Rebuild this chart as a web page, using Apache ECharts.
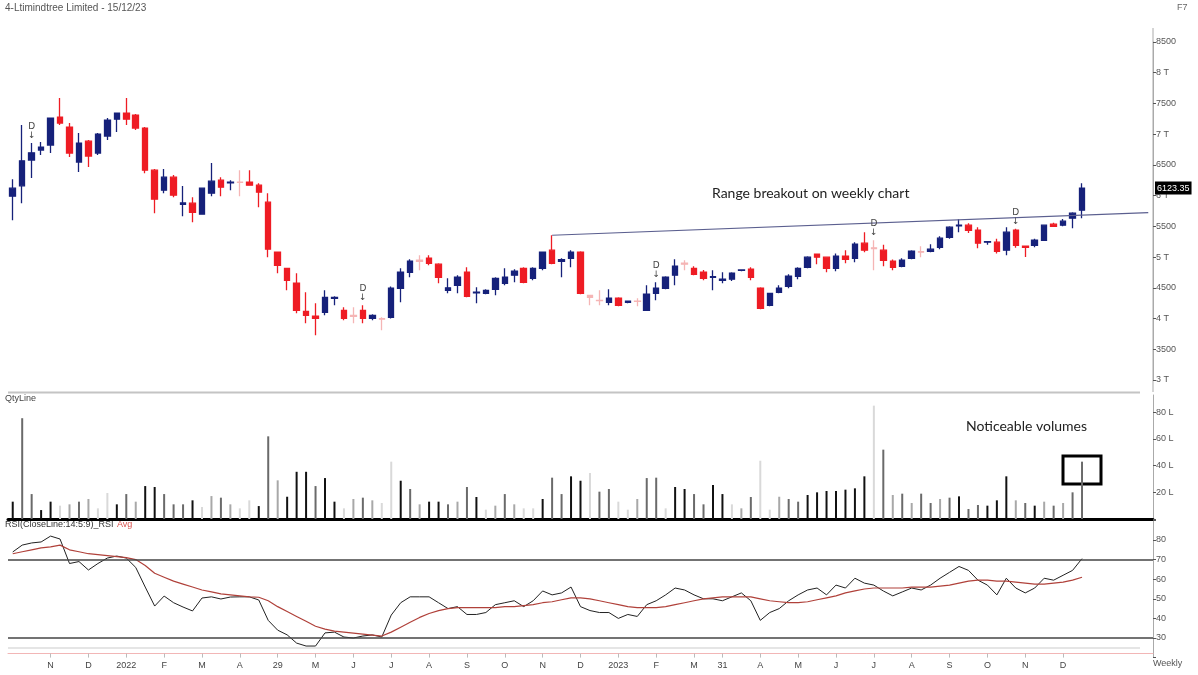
<!DOCTYPE html>
<html>
<head>
<meta charset="utf-8">
<title>Ltimindtree weekly</title>
<script src="https://cdn.jsdelivr.net/npm/echarts@6/dist/echarts.min.js"></script>
<style>
  html, body { margin: 0; padding: 0; background: #fff; }
  #chart { width: 1198px; height: 675px; }
</style>
</head>
<body>
<div id="chart"></div>
<script>
// weekly candles, oldest first (Oct 2021 .. 15 Dec 2023)
const open = [5991, 6159, 6578, 6741, 6822, 7278, 7115, 6546, 6887, 6692,
  6969, 7245, 7343, 7311, 7099, 6415, 6089, 6301, 5860, 5877,
  5698, 6040, 6252, 6210, 6220, 6220, 6170, 5893, 5079, 4818,
  4574, 4118, 4037, 4102, 4330, 4134, 4053, 4134, 4004, 3998,
  4020, 4493, 4753, 4949, 4981, 4884, 4460, 4541, 4753, 4420,
  4412, 4476, 4574, 4705, 4818, 4655, 4818, 5112, 4932, 4981,
  5079, 4378, 4297, 4265, 4330, 4265, 4285, 4134, 4412, 4493,
  4705, 4900, 4818, 4753, 4672, 4620, 4640, 4786, 4802, 4493,
  4216, 4427, 4525, 4688, 4835, 5046, 4998, 4818, 5014, 4981,
  5226, 5150, 5112, 4932, 4851, 4981, 5090, 5095, 5160, 5323,
  5510, 5519, 5437, 5242, 5242, 5112, 5437, 5177, 5193, 5274,
  5535, 5519, 5633, 5763]
const close = [6122, 6566, 6697, 6790, 7262, 7180, 6692, 6855, 6643, 7002,
  7229, 7343, 7245, 7099, 6415, 5942, 6301, 6008, 5880, 5730,
  6122, 6236, 6138, 6220, 6215, 6170, 6057, 5128, 4867, 4623,
  4134, 4053, 4004, 4346, 4346, 4004, 4037, 4004, 4053, 3990,
  4493, 4753, 4932, 4932, 4900, 4672, 4500, 4672, 4362, 4430,
  4460, 4655, 4672, 4770, 4590, 4818, 5079, 4900, 4960, 5079,
  4411, 4346, 4290, 4330, 4216, 4285, 4280, 4395, 4493, 4672,
  4851, 4884, 4721, 4655, 4680, 4640, 4737, 4790, 4672, 4167,
  4411, 4493, 4688, 4818, 4998, 4998, 4818, 5014, 4965, 5209,
  5112, 5140, 4949, 4835, 4949, 5095, 5080, 5128, 5307, 5486,
  5520, 5437, 5226, 5250, 5095, 5405, 5193, 5160, 5274, 5519,
  5502, 5584, 5714, 6123.35]
const high = [6268, 7148, 6855, 6871, 7262, 7588, 7180, 7018, 6904, 7018,
  7262, 7343, 7588, 7327, 7115, 6432, 6432, 6334, 6155, 5975,
  6122, 6530, 6301, 6252, 6415, 6415, 6203, 6040, 5079, 4818,
  4737, 4427, 4248, 4460, 4362, 4183, 4183, 4216, 4069, 4020,
  4520, 4818, 4965, 5030, 5030, 4900, 4655, 4705, 4835, 4510,
  4476, 4672, 4818, 4802, 4835, 4835, 5079, 5355, 4981, 5112,
  5095, 4378, 4460, 4476, 4346, 4290, 4330, 4541, 4590, 4690,
  4965, 4949, 4850, 4790, 4786, 4753, 4753, 4802, 4835, 4510,
  4420, 4541, 4720, 4835, 5014, 5060, 5010, 5060, 5112, 5242,
  5405, 5274, 5200, 4960, 4981, 5112, 5177, 5209, 5340, 5500,
  5616, 5550, 5486, 5260, 5300, 5486, 5460, 5180, 5300, 5530,
  5560, 5620, 5730, 6203]
const low = [5600, 5877, 6285, 6660, 6692, 7148, 6627, 6383, 6464, 6660,
  6904, 7034, 7148, 7067, 6366, 5714, 6040, 5975, 5665, 5567,
  5698, 5991, 5991, 6089, 5991, 6170, 5812, 4998, 4737, 4460,
  4085, 3922, 3727, 4053, 4216, 3971, 3922, 3922, 3971, 3808,
  4000, 4265, 4672, 4786, 4867, 4574, 4412, 4412, 4346, 4248,
  4395, 4378, 4541, 4590, 4574, 4623, 4786, 4884, 4672, 4835,
  4395, 4216, 4216, 4216, 4200, 4250, 4200, 4134, 4297, 4476,
  4541, 4786, 4705, 4623, 4460, 4574, 4610, 4770, 4623, 4150,
  4200, 4411, 4493, 4640, 4818, 4884, 4753, 4770, 4900, 4916,
  5080, 4786, 4850, 4786, 4835, 4965, 4998, 5080, 5128, 5300,
  5405, 5390, 5145, 5200, 5060, 5030, 5150, 5000, 5160, 5260,
  5490, 5500, 5470, 5633]

// weeks drawn in pale pink
const faintIdx = [24, 36, 39, 43, 61, 62, 66, 71, 91, 96]
// weeks with a "D" (dividend) flag
const dividendIdx = [2, 37, 68, 91, 106]

// quantity in lakhs and its shade (0 black .. 3 very light)
const volume = [13, 75.6, 18.7, 6.7, 13, 10, 11, 13, 15, 8,
  19.5, 11, 18.7, 13, 24.7, 24, 18.7, 11, 11, 14,
  9, 17.2, 16, 11, 8, 14, 9.7, 62, 29, 16.7,
  35.4, 35.4, 24.7, 30.7, 13, 8, 15, 16, 14, 12,
  43, 28.7, 22.5, 11, 13, 13, 11, 13, 24, 16.5,
  7, 10, 18.7, 11, 8, 8, 15, 31, 18.7, 32,
  28.7, 34.5, 20.5, 22.5, 13, 7, 15, 30.7, 31, 8,
  24, 22.5, 18.7, 11, 25.5, 18.7, 11, 8, 16.5, 43.7,
  7, 16.7, 15, 13, 18, 20, 21, 21, 22, 23,
  32, 85, 52, 18, 19, 12, 19, 12, 15, 16,
  17, 7.5, 10.5, 10, 14, 32, 14, 12, 10, 13,
  10, 12, 20, 43]
const volShade = [0, 1, 1, 0, 0, 3, 2, 1, 2, 3,
  3, 0, 1, 2, 0, 0, 1, 1, 1, 0,
  3, 2, 1, 2, 3, 3, 0, 1, 2, 0,
  0, 0, 1, 0, 0, 3, 2, 1, 2, 3,
  3, 0, 1, 2, 0, 0, 1, 2, 1, 0,
  3, 2, 1, 2, 3, 3, 0, 1, 1, 0,
  0, 3, 1, 1, 3, 3, 2, 1, 1, 3,
  0, 0, 1, 1, 0, 0, 3, 2, 1, 3,
  3, 2, 1, 1, 0, 0, 0, 0, 0, 0,
  0, 3, 1, 2, 1, 2, 1, 1, 2, 1,
  0, 1, 1, 0, 0, 0, 2, 1, 0, 2,
  1, 2, 1, 1]

const rsi = [73.9, 77.4, 78.5, 79, 82, 80.5, 68, 69, 64.7, 68,
  70.8, 71.8, 70.8, 66, 56, 46.3, 51.4, 48, 45.8, 43.8,
  50.4, 51, 49.9, 50.9, 51, 51, 49.4, 39, 34, 31.6,
  27.4, 25.9, 25.9, 32.6, 33, 30.5, 30, 31, 31.6, 30.5,
  41.7, 48, 51, 51, 51, 48, 45, 46, 42, 42,
  43, 47, 48, 49, 46, 49, 54, 52, 53, 56,
  46, 44, 43, 43, 40, 42, 41, 47, 49, 52,
  55.5, 54.5, 52, 50, 50, 49, 51, 53, 49, 39,
  43, 45, 49, 52, 54.5, 55.5, 52, 57, 55.5, 60.5,
  58, 57, 54, 51.5, 53.5, 55.5, 54.5, 57, 60.5, 63.5,
  66.5, 64.5, 59.5, 57, 52, 60.5, 55.5, 53, 55.5, 60.5,
  59.5, 62, 64.5, 70.5]
const rsiAvg = [73, 74, 75, 76, 76.5, 77.4, 75, 74, 73, 72.5,
  72, 71.5, 71, 70, 67, 63, 61, 59, 57.5, 56,
  54.5, 53.5, 52.5, 52, 51.5, 51, 50.8, 49, 46, 43.5,
  41, 38.5, 36, 34.5, 33.5, 33, 32.5, 32, 31.5, 31,
  33, 35.5, 38, 40.5, 42.5, 44, 45, 45.5, 45.5, 45.5,
  45.5, 45.5, 46, 46, 46.5, 47, 48, 48.5, 49.5, 50.5,
  50.5, 50, 49, 48, 47, 46, 45.5, 45.5, 45.5, 46,
  47, 48, 49, 50, 50.5, 51, 51, 51, 51, 50,
  49, 48.5, 48, 48, 48.5, 49.5, 50.5, 51.5, 53, 54,
  55, 55.5, 55.5, 55.5, 55.5, 56, 56, 56, 56.5, 57,
  58, 59, 59.5, 59.5, 59, 59, 58.5, 58, 57.5, 57.5,
  58, 58.5, 59.5, 61]

// month labels on the time axis
const tickIdx = [4, 8, 12, 16, 20, 24, 28, 32, 36, 40, 44, 48, 52, 56, 60,
  64, 68, 72, 75, 79, 83, 87, 91, 95, 99, 103, 107, 111]
const tickText = ['N', 'D', '2022', 'F', 'M', 'A', '29', 'M', 'J', 'J', 'A', 'S', 'O', 'N', 'D',
  '2023', 'F', 'M', '31', 'A', 'M', 'J', 'J', 'A', 'S', 'O', 'N', 'D']

// breakout line: [week, price] -> [week, price]
const breakoutLine = [[57, 5355], [120, 5725]]
const lastPrice = 6123.35

const weeks = open.map((v, i) => 'W' + i)
for (let i = 0; i < 7; i++) weeks.push('E' + i)

const UP = '#16217a'
const DOWN = '#ee1c24'
const FAINT = '#f5b5b5'
const shadeColors = ['#111111', '#6a6a6a', '#a8a8a8', '#d9d9d9']
const axisFont = { fontFamily: 'Liberation Sans', fontSize: 9, color: '#555' }

const chartInstance = echarts.init(document.getElementById('chart'))

const candleData = open.map((o, i) => {
  const item = { value: [o, close[i], low[i], high[i]] }
  if (faintIdx.includes(i)) {
    item.itemStyle = { color: FAINT, color0: FAINT, borderColor: FAINT, borderColor0: FAINT }
  }
  return item
})

const volData = volume.map((v, i) => ({
  value: v,
  itemStyle: { color: shadeColors[volShade[i]] },
}))

const dividendMarks = dividendIdx.map((i) => ({ coord: [i, high[i]], value: 'D' }))

const hiddenX = {
  type: 'category',
  data: weeks,
  boundaryGap: true,
  axisLine: { show: false },
  axisTick: { show: false },
  axisLabel: { show: false },
  splitLine: { show: false },
}

const option = {
  animation: false,
  backgroundColor: '#fff',
  grid: [
    { left: 8, right: 45, top: 42, height: 338 },
    { left: 8, right: 45, top: 395, height: 124 },
    { left: 8, right: 45, top: 520.4, height: 137.2 },
  ],
  xAxis: [
    Object.assign({ gridIndex: 0 }, hiddenX),
    Object.assign({}, hiddenX, {
      gridIndex: 1,
      axisLine: { show: true, onZero: false, lineStyle: { color: '#000', width: 3 } },
    }),
    {
      gridIndex: 2,
      type: 'category',
      data: weeks,
      boundaryGap: true,
      offset: -4,
      axisLine: { show: true, onZero: false, lineStyle: { color: '#f2b6b6', width: 1 } },
      axisTick: {
        show: true,
        alignWithLabel: true,
        length: 4,
        interval: (index) => tickIdx.includes(index),
        lineStyle: { color: '#bbb' },
      },
      axisLabel: Object.assign({}, axisFont, {
        interval: (index) => tickIdx.includes(index),
        formatter: (value, index) => tickText[tickIdx.indexOf(index)],
        margin: 7,
        color: '#444',
      }),
      splitLine: { show: false },
    },
  ],
  yAxis: [
    {
      gridIndex: 0,
      type: 'value',
      position: 'right',
      min: 3000,
      max: 8500,
      interval: 500,
      axisLine: { show: true, lineStyle: { color: '#aaa' } },
      axisTick: { show: true, length: 3, lineStyle: { color: '#555' } },
      axisLabel: Object.assign({}, axisFont, {
        margin: 3,
        formatter: (v) => (v % 1000 === 0 ? v / 1000 + ' T' : String(v)),
      }),
      splitLine: { show: false },
    },
    {
      gridIndex: 1,
      type: 'value',
      position: 'right',
      min: 0,
      max: 93,
      interval: 20,
      axisLine: { show: true, lineStyle: { color: '#aaa' } },
      axisTick: { show: true, length: 3, lineStyle: { color: '#555' } },
      axisLabel: Object.assign({}, axisFont, {
        margin: 3,
        showMaxLabel: false,
        formatter: (v) => (v > 0 && v <= 80 && v % 20 === 0 ? v + ' L' : ''),
      }),
      splitLine: { show: false },
    },
    {
      gridIndex: 2,
      type: 'value',
      position: 'right',
      min: 20,
      max: 90,
      interval: 10,
      axisLine: { show: true, lineStyle: { color: '#aaa' } },
      axisTick: { show: true, length: 3, lineStyle: { color: '#555' } },
      axisLabel: Object.assign({}, axisFont, {
        margin: 3,
        formatter: (v) => (v >= 30 && v <= 80 ? String(v) : ''),
      }),
      splitLine: { show: false },
    },
  ],
  series: [
    {
      name: 'Price',
      type: 'candlestick',
      xAxisIndex: 0,
      yAxisIndex: 0,
      barWidth: 6,
      data: candleData,
      itemStyle: {
        color: UP,
        color0: DOWN,
        borderColor: UP,
        borderColor0: DOWN,
        borderWidth: 1.3,
      },
      markLine: {
        silent: true,
        symbol: 'none',
        animation: false,
        data: [
          [
            { coord: breakoutLine[0] },
            { coord: breakoutLine[1] },
          ],
          {
            yAxis: lastPrice,
            lineStyle: { color: 'rgba(0,0,0,0)', width: 0.1 },
            label: {
              show: true,
              position: 'end',
              distance: 2,
              formatter: lastPrice.toFixed(2),
              backgroundColor: '#000',
              color: '#fff',
              fontFamily: 'Liberation Sans',
              fontSize: 9,
              padding: [2, 2],
            },
          },
        ],
        lineStyle: { color: '#5b5f8f', width: 1.2, type: 'solid' },
        label: { show: false },
      },
      markPoint: {
        silent: true,
        symbol: 'rect',
        symbolSize: 0.1,
        itemStyle: { color: 'rgba(0,0,0,0)' },
        label: {
          show: true,
          position: 'top',
          distance: 3,
          formatter: 'D\n↓',
          fontFamily: 'DejaVu Sans',
          fontSize: 9,
          lineHeight: 9,
          color: '#444',
        },
        data: dividendMarks,
      },
    },
    {
      name: 'QtyLine',
      type: 'bar',
      xAxisIndex: 1,
      yAxisIndex: 1,
      barWidth: 2,
      data: volData,
    },
    {
      name: 'RSI',
      type: 'line',
      xAxisIndex: 2,
      yAxisIndex: 2,
      data: rsi,
      symbol: 'none',
      lineStyle: { color: '#222', width: 1 },
      markLine: {
        silent: true,
        symbol: 'none',
        label: { show: false },
        lineStyle: { color: '#444', width: 1.5, type: 'solid' },
        data: [{ yAxis: 70 }, { yAxis: 30 }],
      },
    },
    {
      name: 'Avg',
      type: 'line',
      xAxisIndex: 2,
      yAxisIndex: 2,
      data: rsiAvg,
      symbol: 'none',
      lineStyle: { color: '#b0413a', width: 1.2 },
    },
  ],
  graphic: [
    { type: 'line', silent: true, shape: { x1: 8, y1: 392.5, x2: 1140, y2: 392.5 }, style: { stroke: '#c4c4c4', lineWidth: 2 } },
    { type: 'line', silent: true, shape: { x1: 8, y1: 648, x2: 1140, y2: 648 }, style: { stroke: '#dddddd', lineWidth: 1.5 } },
    { type: 'line', silent: true, shape: { x1: 1153, y1: 28, x2: 1153, y2: 392 }, style: { stroke: '#aaa', lineWidth: 1 } },
    { type: 'text', left: 5, top: 3, style: { text: '4-Ltimindtree Limited - 15/12/23', font: '10px "Liberation Sans"', fill: '#555' } },
    { type: 'text', left: 1177, top: 3, style: { text: 'F7', font: '9px "Liberation Sans"', fill: '#666' } },
    { type: 'text', left: 5, top: 394, style: { text: 'QtyLine', font: '9px "Liberation Sans"', fill: '#444' } },
    {
      type: 'text',
      left: 5,
      top: 519,
      style: {
        text: '{a|RSI(CloseLine:14:5:9)_RSI} {b|Avg}',
        rich: {
          a: { font: '9px "Liberation Sans"', fill: '#333' },
          b: { font: '9px "Liberation Sans"', fill: '#d9534f' },
        },
      },
    },
    { type: 'text', left: 1153, top: 659, style: { text: 'Weekly', font: '9px "Liberation Sans"', fill: '#555' } },
    { type: 'text', left: 712, top: 186, style: { text: 'Range breakout on weekly chart', font: '14px Lato', fill: '#222' } },
    { type: 'text', left: 966, top: 419, style: { text: 'Noticeable volumes', font: '14px Lato', fill: '#222' } },
    { type: 'rect', silent: true, shape: { x: 1063, y: 456, width: 38, height: 28 }, style: { fill: 'none', stroke: '#000', lineWidth: 3 } },
  ],
}

chartInstance.setOption(option)
</script>
</body>
</html>
